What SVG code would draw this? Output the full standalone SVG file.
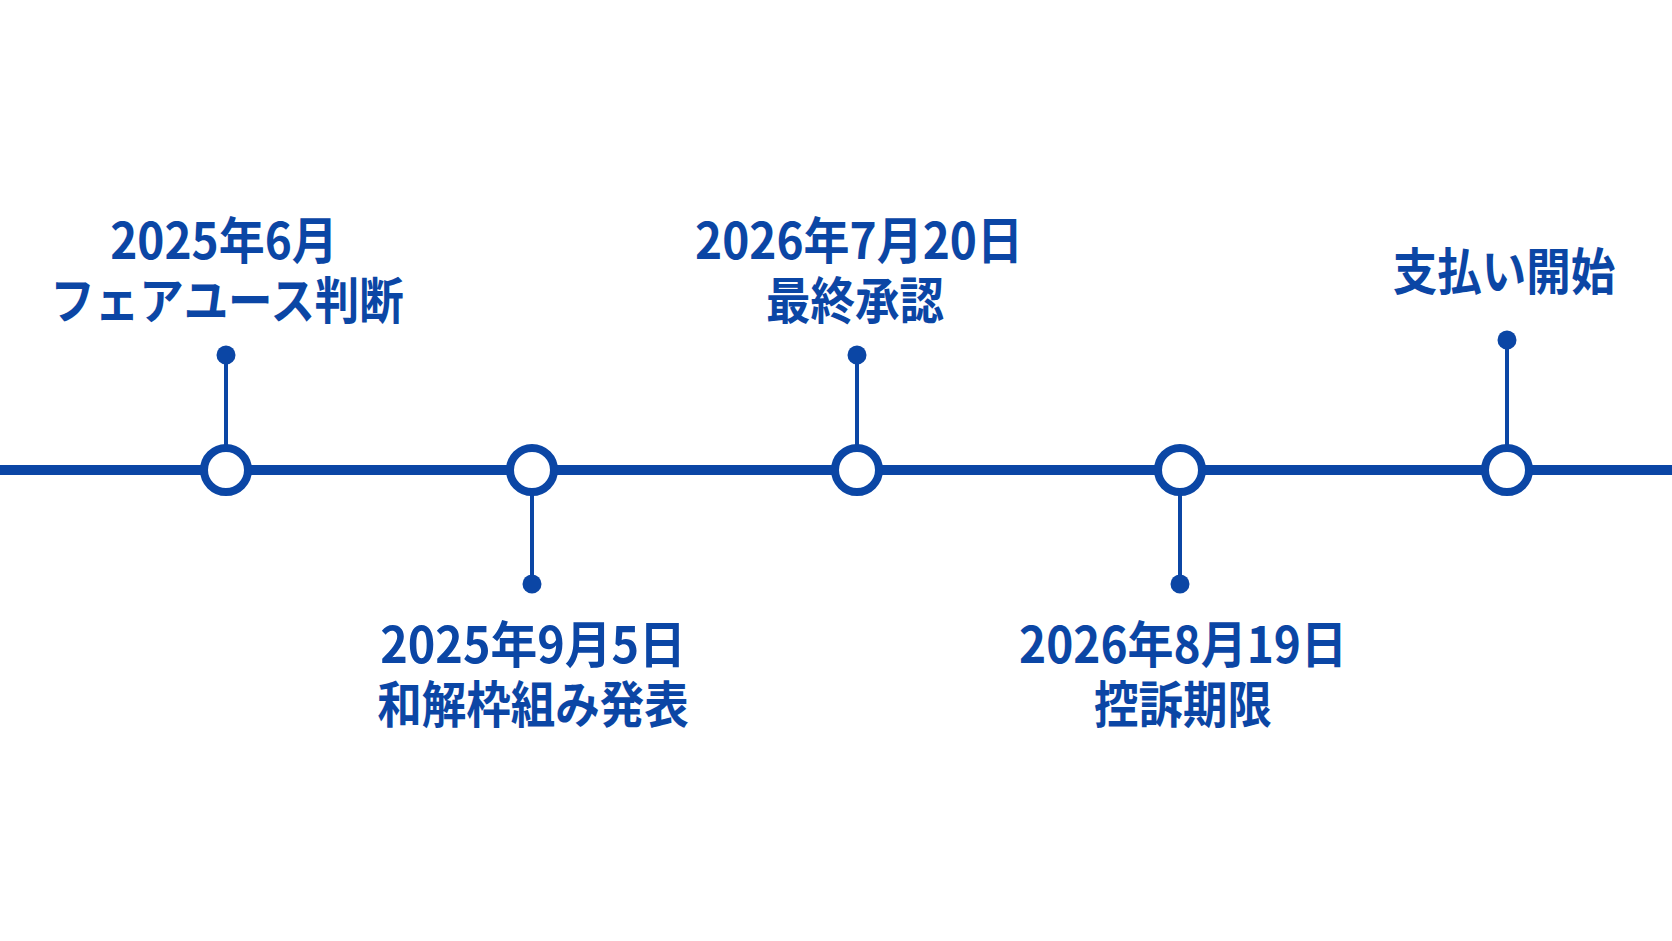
<svg xmlns="http://www.w3.org/2000/svg" width="1672" height="941" viewBox="0 0 1672 941">
<style>
.t{font-family:"Noto Sans CJK JP","Noto Sans",sans-serif;font-weight:700;font-size:50px;fill:#0B46A5;text-anchor:middle}
.stem{stroke:#0B46A5;stroke-width:4}
.dot{fill:#0B46A5}
.ring{fill:#FFFFFF;stroke:#0B46A5;stroke-width:8}
</style>
<rect width="1672" height="941" fill="#FFFFFF"/>
<g id="connectors">
<line x1="0" y1="470" x2="1672" y2="470" stroke="#0B46A5" stroke-width="10"/>
<line class="stem" x1="226" y1="355" x2="226" y2="448"/>
<line class="stem" x1="532" y1="492" x2="532" y2="584"/>
<line class="stem" x1="857" y1="355" x2="857" y2="448"/>
<line class="stem" x1="1180" y1="492" x2="1180" y2="584"/>
<line class="stem" x1="1507" y1="340" x2="1507" y2="448"/>
</g>
<g id="n1">
<circle class="dot" cx="226" cy="355" r="9.5"/>
<circle class="ring" cx="226" cy="470" r="22"/>
<text class="t" transform="translate(224,259) scale(0.92,1)">2025年6月</text>
<text class="t" transform="translate(227,319) scale(0.89,1)">フェアユース判断</text>
</g>
<g id="n2">
<circle class="dot" cx="532" cy="584" r="9.5"/>
<circle class="ring" cx="532" cy="470" r="22"/>
<text class="t" transform="translate(533,663) scale(0.935,1)">2025年9月5日</text>
<text class="t" transform="translate(533,723) scale(0.89,1)">和解枠組み発表</text>
</g>
<g id="n3">
<circle class="dot" cx="857" cy="355" r="9.5"/>
<circle class="ring" cx="857" cy="470" r="22"/>
<text class="t" transform="translate(859,259) scale(0.92,1)">2026年7月20日</text>
<text class="t" transform="translate(855,319) scale(0.89,1)">最終承認</text>
</g>
<g id="n4">
<circle class="dot" cx="1180" cy="584" r="9.5"/>
<circle class="ring" cx="1180" cy="470" r="22"/>
<text class="t" transform="translate(1183,663) scale(0.92,1)">2026年8月19日</text>
<text class="t" transform="translate(1183,723) scale(0.89,1)">控訴期限</text>
</g>
<g id="n5">
<circle class="dot" cx="1507" cy="340" r="9.5"/>
<circle class="ring" cx="1507" cy="470" r="22"/>
<text class="t" transform="translate(1504,290) scale(0.89,1)">支払い開始</text>
</g>
</svg>
